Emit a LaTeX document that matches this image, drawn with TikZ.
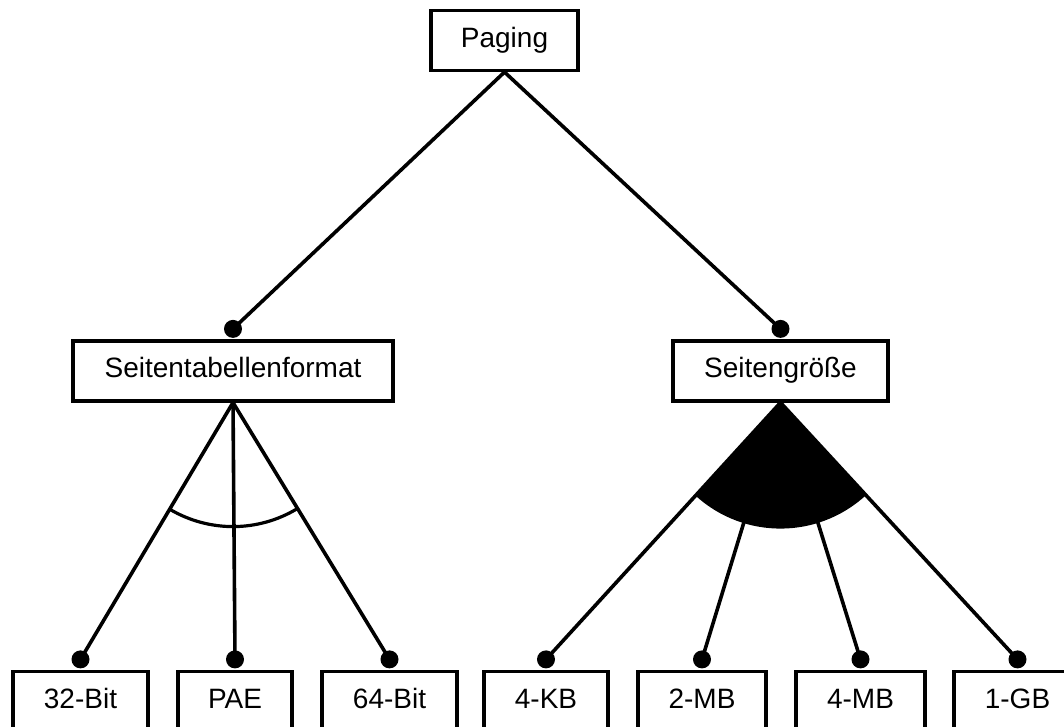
\documentclass[tikz,border=0pt]{standalone}
\usepackage{fontspec}
\setmainfont{Liberation Sans}
\usetikzlibrary{calc}
\begin{document}
\begin{tikzpicture}[x=1pt,y=1pt,
  feature/.style={draw, line width=3.2pt, minimum height=60pt, inner sep=0pt,
    text height=20pt, text depth=6pt, font=\fontsize{28}{34}\selectfont},
  conn/.style={line width=3.6pt},
  knob/.style={fill=black, circle, inner sep=0pt, minimum size=18pt}]
\useasboundingbox (0,0) rectangle (1064,727);
\clip (0,0) rectangle (1064,727);
\fill[white] (0,0) rectangle (1064,727);

% feature boxes
\node[feature, minimum width=147pt] (pg) at (504.5,686.5) {Paging};
\node[feature, minimum width=320pt] (st) at (233,356) {Seitentabellenformat};
\node[feature, minimum width=215pt] (sg) at (780.5,356) {Seitengröße};
\node[feature, minimum width=135pt] (b32) at (80.5,25.5) {32-Bit};
\node[feature, minimum width=114pt] (pae) at (235,25.5) {PAE};
\node[feature, minimum width=135pt] (b64) at (389.5,25.5) {64-Bit};
\node[feature, minimum width=124pt] (k4) at (546,25.5) {4-KB};
\node[feature, minimum width=128pt] (m2) at (702,25.5) {2-MB};
\node[feature, minimum width=129pt] (m4) at (860.5,25.5) {4-MB};
\node[feature, minimum width=127pt] (g1) at (1017.5,25.5) {1-GB};

% mandatory-feature knobs on top of each child box
\foreach \n in {st,sg,b32,pae,b64,k4,m2,m4,g1}
  \node[knob] (d\n) at ($(\n.north)+(0,10.5)$) {};

% alternative group: arc over the three edges
\draw[line width=3.2pt] ($(st.south)+(239.6:124)$) arc[start angle=239.6, end angle=301, radius=124];

% or group: filled sector over the four edges
\fill (sg.south) -- ++(228:126) arc[start angle=228, end angle=312.3, radius=126] -- cycle;

% connectors
\draw[conn] (pg.south) -- (dst.center);
\draw[conn] (pg.south) -- (dsg.center);
\foreach \n in {b32,pae,b64}
  \draw[conn] (st.south) -- (d\n.center);
\foreach \n in {k4,m2,m4,g1}
  \draw[conn] (sg.south) -- (d\n.center);
\end{tikzpicture}
\end{document}
